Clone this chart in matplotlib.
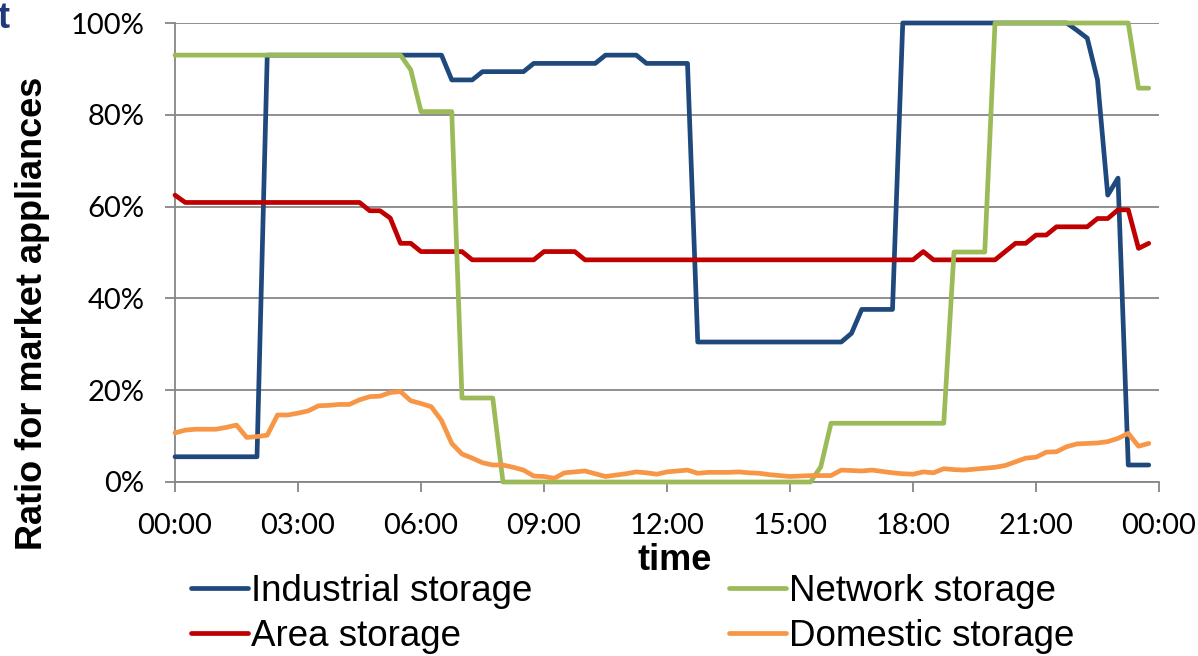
import numpy as np
import matplotlib
matplotlib.use("Agg")
import matplotlib.pyplot as plt

# 96 quarter-hour samples, values in percent
industrial = ([5.5] * 9 + [93.0] * 18 + [87.6] * 3 + [89.4] * 5 + [91.2] * 7
              + [93.0] * 4 + [91.2] * 5 + [30.5] * 15 + [32.4] + [37.6] * 4
              + [100.0] * 17 + [98.4, 96.7, 87.6, 62.5, 66.2] + [3.7] * 3)

network = ([93.0] * 23 + [89.8] + [80.7] * 4 + [18.3] * 4 + [0.0] * 31
           + [3.3] + [12.8] * 12 + [50.1] * 4 + [100.0] * 14 + [85.8] * 2)

area = ([62.5] + [60.9] * 18 + [59.1] * 2 + [57.5] + [52.0] * 2 + [50.2] * 5
        + [48.4] * 7 + [50.2] * 4 + [48.4] * 33 + [50.2] + [48.4] * 7 + [50.2]
        + [52.0] * 2 + [53.8] * 2 + [55.6] * 4 + [57.4] * 2 + [59.3] * 2
        + [50.9, 52.0])

domestic = [10.7, 11.3, 11.5, 11.5, 11.5, 11.9, 12.4, 9.7, 9.9, 10.2,
            14.6, 14.6, 15.0, 15.5, 16.6, 16.7, 16.9, 16.9, 17.9, 18.6,
            18.7, 19.5, 19.7, 17.7, 17.1, 16.4, 13.4, 8.4, 6.1, 5.2,
            4.2, 3.7, 3.7, 3.2, 2.6, 1.3, 1.2, 0.8, 2.0, 2.2,
            2.4, 1.8, 1.2, 1.5, 1.8, 2.2, 2.0, 1.7, 2.2, 2.4,
            2.6, 1.9, 2.1, 2.1, 2.1, 2.2, 2.0, 1.9, 1.6, 1.4,
            1.2, 1.3, 1.4, 1.4, 1.4, 2.6, 2.5, 2.4, 2.6, 2.3,
            2.0, 1.8, 1.7, 2.2, 2.0, 2.9, 2.7, 2.6, 2.8, 3.0,
            3.2, 3.6, 4.4, 5.2, 5.4, 6.5, 6.6, 7.7, 8.3, 8.4,
            8.5, 8.8, 9.5, 10.6, 7.8, 8.4]

series_names = ["Industrial storage", "Area storage", "Network storage", "Domestic storage"]
series_colors = ["#1F497D", "#C00000", "#9BBB59", "#F79646"]
x_ticklabels = ["00:00", "03:00", "06:00", "09:00", "12:00", "15:00", "18:00", "21:00", "00:00"]
y_ticklabels = ["0%", "20%", "40%", "60%", "80%", "100%"]

W, H = 1198, 656
grid_col = "#868686"

fig = plt.figure(figsize=(W / 100, H / 100), dpi=100)
ax = fig.add_axes([175 / W, 1 - 482 / H, (1159 - 175) / W, (482 - 23) / H])

x = np.arange(len(industrial))
lines = []
for vals, name, col in zip([industrial, area, network, domestic], series_names, series_colors):
    ln, = ax.plot(x, np.array(vals) / 100, color=col, lw=3.4, label=name,
                  solid_joinstyle="round", solid_capstyle="round", clip_on=False, zorder=3)
    lines.append(ln)

ax.set_xlim(0, 96)
ax.set_ylim(0, 1)
ax.set_xticks(np.arange(0, 97, 12))
ax.set_xticklabels(x_ticklabels)
ax.set_yticks(np.linspace(0, 1, 6))
ax.set_yticklabels(y_ticklabels)

for s in ["top", "right"]:
    ax.spines[s].set_visible(False)
for s in ["left", "bottom"]:
    ax.spines[s].set_color(grid_col)
    ax.spines[s].set_linewidth(1.3)
ax.yaxis.grid(True, color=grid_col, lw=1.3)
ax.set_axisbelow(True)
ax.tick_params(direction="out", length=7, width=1.3, color=grid_col, pad=15)
for lab in ax.get_xticklabels() + ax.get_yticklabels():
    lab.set_family("Lato")
    lab.set_fontsize(21)

fig.text(33 / W, 1 - 313 / H, "Ratio for market appliances", rotation=90,
         ha="center", va="center", fontsize=26, fontweight="bold", family="Liberation Sans")
fig.text(675 / W, 1 - 570 / H, "time", ha="center", va="baseline",
         fontsize=26, fontweight="bold", family="Liberation Sans")
fig.text(-2 / W, 1 - 28 / H, "t", ha="left", va="baseline",
         fontsize=26, fontweight="bold", color="#1F3A7A", family="Liberation Sans")

fig.legend(handles=lines, labels=series_names, ncol=2, loc="upper left",
           bbox_to_anchor=(191 / W, 1 - 574 / H), frameon=False,
           prop={"family": "Liberation Sans", "size": 26.5},
           handlelength=1.55, handletextpad=0.08, columnspacing=5.35,
           labelspacing=0.28, borderpad=0, borderaxespad=0)

fig.savefig("out.png", dpi=100)
